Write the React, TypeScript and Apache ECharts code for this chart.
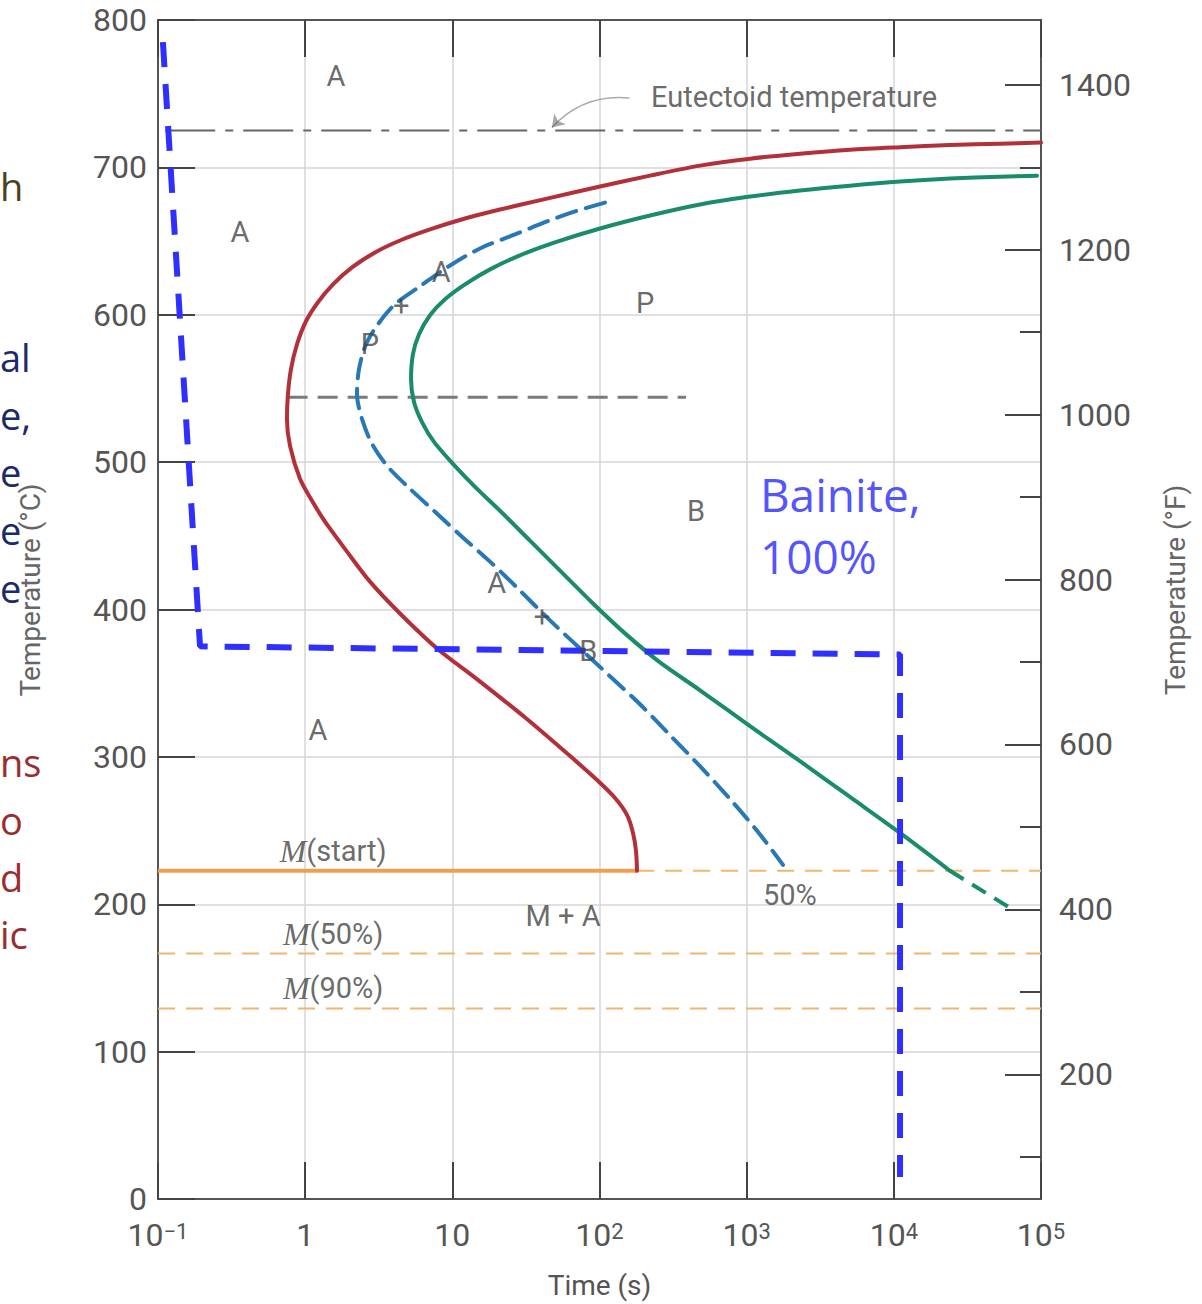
import React, { useEffect, useRef } from 'react';
import * as echarts from 'echarts';

// ---- axes ----
const TIME_MIN = 0.1;
const TIME_MAX = 1e5;
const TEMP_MIN = 0;
const TEMP_MAX = 800;
const TEMP_STEP = 100;
const F_MIN = 48.8;
const F_MAX = 1478.6;
const F_MAJOR = [200, 400, 600, 800, 1000, 1200, 1400];
const F_MINOR = [100, 300, 500, 700, 900, 1100, 1300];

// ---- curves: [time (s), temperature (°C)] ----
const startCurve: [number, number][] = [
  [1e5, 716.8], [52640, 716.1], [24070, 715.1], [11020, 713.7], [5035, 712.0], [2303, 709.3],
  [1054, 705.9], [482, 701.2], [220.4, 694.4], [100.8, 687.0], [43.98, 678.8], [21.09, 671.4],
  [12.19, 665.3], [7.05, 657.9], [4.41, 650.4], [2.982, 642.3], [2.081, 632.1], [1.546, 620.6],
  [1.222, 608.5], [1.013, 595.6], [0.88, 580.0], [0.801, 563.1], [0.764, 546.2], [0.752, 529.3],
  [0.789, 511.0], [0.922, 488.7], [1.113, 473.8], [1.364, 459.6], [1.924, 439.3], [2.757, 418.9],
  [4.41, 397.3], [7.87, 373.6], [14.48, 353.3], [31.66, 326.2], [62.03, 301.2], [96.2, 284.3],
  [127.5, 272.1], [153.8, 260.6], [168.9, 248.4], [177, 236.2], [179.8, 222.7],
];
const finishCurve: [number, number][] = [
  [93900, 694.4], [52640, 693.7], [24070, 692.4], [11020, 690.4], [5035, 687.6], [2303, 684.3],
  [1054, 680.2], [482, 674.8], [220.4, 667.3], [100.8, 658.5], [49.8, 649.1], [28.8, 640.3],
  [18.03, 630.8], [12.19, 620.6], [8.92, 610.5], [7.05, 599.7], [5.94, 586.8], [5.4, 573.3],
  [5.24, 556.3], [5.49, 540.8], [6.22, 527.2], [7.51, 513.7], [10.1, 498.8], [14.26, 483.2],
  [21.09, 467.0], [33.7, 446.7], [53.9, 426.4], [90.3, 404.1], [149, 383.8], [257.6, 364.1],
  [482, 345.2], [1054, 320.8], [2303, 297.1], [5035, 272.8], [11020, 248.4], [24070, 222.7],
];
const finishExtension: [number, number][] = [[24070, 222.7], [61550, 197.6]];
const halfCurve: [number, number][] = [
  [109.0, 676.1], [68.16, 670.1], [43.98, 663.3], [26.66, 654.5], [15.41, 645.0], [9.199, 632.1],
  [6.03, 619.3], [4.077, 607.1], [3.126, 593.6], [2.59, 580.0], [2.322, 563.1], [2.25, 546.2],
  [2.433, 529.3], [2.846, 512.4], [3.654, 496.8], [5.157, 481.9], [7.625, 466.3], [11.63, 449.4],
  [18.03, 432.5], [28.8, 412.9], [46.08, 392.6], [73.7, 373.6], [117.8, 354.7], [188.5, 335.7],
  [301.3, 314.7], [482, 293.7], [770.2, 271.4], [1194, 249.1], [1765, 226.7],
];
const coolingPath: [number, number][] = [[0.108, 785], [0.193, 375], [11020, 369.5], [11020, 15]];
const EUTECTOID_T = 725;
const EUTECTOID_START = 0.112;
const NOSE_LINE: [number, number][] = [[0.76, 544], [387, 544]];
const M_START = 222.7;
const M_START_END_TIME = 180;
const M_50 = 166.5;
const M_90 = 129.3;
const arrowCoords: [number, number][] = [[160, 747], [47.5, 727]];

// ---- labels: [time, temperature, text] ----
const regionLabels: [number, number, string][] = [
  [1.62, 762, 'A'], [0.36, 656, 'A'], [8.4, 629, 'A'], [4.5, 606, '+'], [2.75, 580, 'P'],
  [204, 608, 'P'], [453, 467, 'B'], [20, 418, 'A'], [40.6, 395, '+'], [84, 372, 'B'],
  [1.22, 318, 'A'], [56.5, 192, 'M + A'], [1968, 206, '50%'],
  [2100, 748, 'Eutectoid temperature'],
];
const martensiteLabels: [number, number, string][] = [
  [1.55, 236, '{m|M}(start)'], [1.55, 180, '{m|M}(50%)'], [1.55, 143.5, '{m|M}(90%)'],
];
const bainiteLabel: [number, number, string] = [1230, 457, 'Bainite,\n100%'];

const slideFragments: [number, string, string][] = [
  [186, 'h', '#4b3f22'], [357, 'al', '#1b2a68'], [415, 'e,', '#1b2a68'], [472, 'e', '#1b2a68'],
  [530, 'e', '#1b2a68'], [588, 'e', '#1b2a68'], [762, 'ns', '#9b2d30'], [820, 'o', '#9b2d30'],
  [877, 'd', '#9b2d30'], [934, 'ic', '#9b2d30'],
];

const FONT = 'Roboto, "Liberation Sans", sans-serif';
const TXT = '#555';
const RED = '#b2303a';
const GREEN = '#1a8c6b';
const BLUE50 = '#2878b5';
const PATH_BLUE = '#2f2fff';
const ORANGE = '#f0a04c';
const ORANGE_LIGHT = '#f3b56e';

export default function App() {
  const ref = useRef<HTMLDivElement>(null);
  useEffect(() => {
    if (!ref.current) return;
    const chart = echarts.init(ref.current, undefined, { renderer: 'svg' });
    const hLine = (y: number, x0: number, x1: number) => [[x0, y], [x1, y]];
    const labelSeries = (items: [number, number, string][], extra: any) => ({
      type: 'scatter',
      symbolSize: 1,
      itemStyle: { color: 'rgba(0,0,0,0)' },
      silent: true,
      z: 10,
      data: items.map((d) => ({ value: [d[0], d[1]], name: d[2] })),
      label: {
        show: true,
        position: 'inside',
        formatter: (p: any) => p.name,
        color: '#444',
        fontFamily: FONT,
        fontSize: 29,
        ...extra,
      },
    });
    const curve = (data: [number, number][], color: string, dash?: number[]) => ({
      type: 'line', data, symbol: 'none', smooth: 0.3,
      lineStyle: { color, width: 4, type: dash || 'solid', cap: 'round' }, z: 5,
    });
    chart.setOption({
      animation: false,
      backgroundColor: '#fff',
      grid: { left: 158, top: 20, width: 883, height: 1182 },
      xAxis: [
        {
          type: 'log', logBase: 10, min: TIME_MIN, max: TIME_MAX, splitNumber: 6,
          position: 'bottom',
          name: 'Time (s)', nameLocation: 'middle', nameGap: 72,
          nameTextStyle: { fontFamily: FONT, fontSize: 28, color: TXT },
          axisLine: { show: true, lineStyle: { color: '#555', width: 2 } },
          axisTick: { show: true, inside: true, length: 37, lineStyle: { color: '#444', width: 2 } },
          minorTick: { show: false },
          splitLine: { show: true, lineStyle: { color: '#d6d6d6', width: 1.5 } },
          axisLabel: {
            margin: 21, fontFamily: FONT, fontSize: 32, color: TXT, lineHeight: 30,
            formatter: (v: number) => {
              const e = Math.round(Math.log10(v));
              if (e === 0) return '1';
              if (e === 1) return '10';
              return '10{s|' + (e < 0 ? '\u2212' : '') + Math.abs(e) + '}';
            },
            rich: { s: { fontFamily: FONT, fontSize: 22, color: TXT, verticalAlign: 'top', lineHeight: 14 } },
          },
        },
        {
          type: 'log', logBase: 10, min: TIME_MIN, max: TIME_MAX, splitNumber: 6,
          position: 'top',
          axisLine: { show: true, lineStyle: { color: '#555', width: 2 } },
          axisTick: { show: true, inside: true, length: 37, lineStyle: { color: '#444', width: 2 } },
          axisLabel: { show: false },
          splitLine: { show: false },
        },
      ],
      yAxis: [
        {
          type: 'value', min: TEMP_MIN, max: TEMP_MAX, interval: TEMP_STEP, position: 'left',
          axisLine: { show: true, lineStyle: { color: '#555', width: 2 } },
          axisTick: { show: true, inside: true, length: 37, lineStyle: { color: '#444', width: 2 } },
          splitLine: { show: true, lineStyle: { color: '#d6d6d6', width: 1.5 } },
          axisLabel: { margin: 11, fontFamily: FONT, fontSize: 32, color: TXT, lineHeight: 28 },
        },
        {
          type: 'value', min: F_MIN, max: F_MAX, position: 'right',
          axisLine: { show: true, lineStyle: { color: '#555', width: 2 } },
          axisTick: { show: true, inside: true, length: 36, customValues: F_MAJOR, lineStyle: { color: '#444', width: 2 } },
          splitLine: { show: false },
          axisLabel: {
            margin: 18, fontFamily: FONT, fontSize: 32, color: TXT, customValues: F_MAJOR,
            formatter: (v: number) => String(Math.round(v)),
          },
        },
        {
          type: 'value', min: F_MIN, max: F_MAX, position: 'right',
          axisLine: { show: false },
          axisTick: { show: true, inside: true, length: 21, customValues: F_MINOR, lineStyle: { color: '#444', width: 2 } },
          splitLine: { show: false },
          axisLabel: { show: false },
        },
      ],
      series: [
        {
          type: 'line', data: [[EUTECTOID_START, EUTECTOID_T], [TIME_MAX, EUTECTOID_T]], symbol: 'none',
          lineStyle: { color: '#666', width: 2, type: [50, 10, 8, 10] }, z: 3,
        },
        {
          type: 'line', data: NOSE_LINE, symbol: 'none',
          lineStyle: { color: '#7a7a7a', width: 3, type: [20, 10] }, z: 3,
        },
        {
          type: 'line', data: hLine(M_START, TIME_MIN, M_START_END_TIME), symbol: 'none',
          lineStyle: { color: ORANGE, width: 4 }, z: 4,
        },
        {
          type: 'line', data: hLine(M_START, M_START_END_TIME, TIME_MAX), symbol: 'none',
          lineStyle: { color: ORANGE_LIGHT, width: 2, type: [17, 11] }, z: 3,
        },
        {
          type: 'line', data: hLine(M_50, TIME_MIN, TIME_MAX), symbol: 'none',
          lineStyle: { color: ORANGE_LIGHT, width: 2, type: [17, 11] }, z: 3,
        },
        {
          type: 'line', data: hLine(M_90, TIME_MIN, TIME_MAX), symbol: 'none',
          lineStyle: { color: ORANGE_LIGHT, width: 2, type: [17, 11] }, z: 3,
        },
        curve(startCurve, RED),
        curve(finishCurve, GREEN),
        {
          type: 'line', data: finishExtension, symbol: 'none',
          lineStyle: { color: GREEN, width: 4, type: [16, 10] }, z: 5,
        },
        curve(halfCurve, BLUE50, [20, 10]),
        {
          type: 'line', data: coolingPath, symbol: 'none',
          lineStyle: { color: PATH_BLUE, width: 6, type: [25, 17] }, z: 6,
        },
        {
          type: 'lines', coordinateSystem: 'cartesian2d', polyline: false,
          symbol: ['none', 'arrow'], symbolSize: 12,
          lineStyle: { color: '#555', width: 1.5, curveness: -0.25 },
          data: [{ coords: arrowCoords }], z: 6, silent: true,
        },
        labelSeries(regionLabels, {}),
        labelSeries(martensiteLabels, {
          rich: { m: { fontFamily: '"Liberation Serif", "DejaVu Serif", serif', fontStyle: 'italic', fontSize: 32, color: '#444' } },
        }),
        labelSeries([bainiteLabel], {
          align: 'left', verticalAlign: 'middle', color: '#2626ff', fontSize: 46, fontWeight: 'normal',
          fontFamily: '"Open Sans", sans-serif', lineHeight: 62,
        }),
      ],
      graphic: [
        ...slideFragments.map((f) => ({
          type: 'text', x: 0, y: f[0], z: 1,
          style: { text: f[1], fill: f[2], font: '38px "Open Sans", sans-serif', textAlign: 'left', textVerticalAlign: 'middle' },
        })),
        {
          type: 'text', x: 30, y: 590, rotation: Math.PI / 2, z: 2,
          style: { text: 'Temperature (°C)', fill: '#666', font: '28px Roboto, sans-serif', textAlign: 'center', textVerticalAlign: 'middle' },
        },
        {
          type: 'text', x: 1175, y: 590, rotation: Math.PI / 2, z: 2,
          style: { text: 'Temperature (°F)', fill: '#666', font: '28px Roboto, sans-serif', textAlign: 'center', textVerticalAlign: 'middle' },
        },
      ],
    });
    return () => chart.dispose();
  }, []);
  return <div ref={ref} style={{ position: 'fixed', left: 0, top: 0, width: 1202, height: 1304 }} />;
}
